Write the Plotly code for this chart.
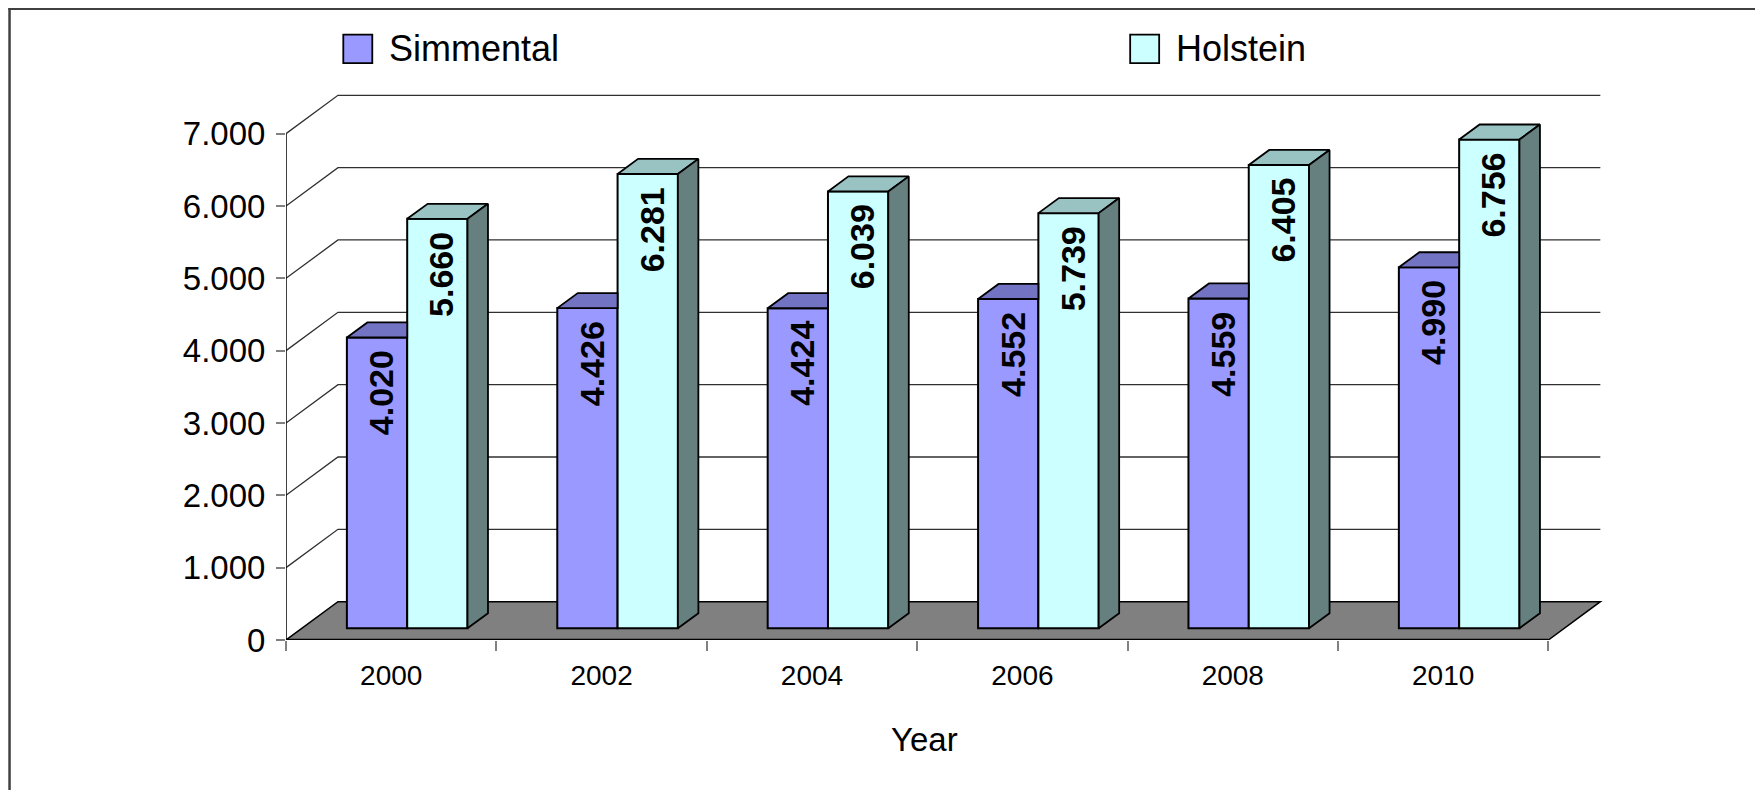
import plotly.graph_objects as go

# ---------------- data ----------------
years = ["2000", "2002", "2004", "2006", "2008", "2010"]
simmental = [4020, 4426, 4424, 4552, 4559, 4990]
holstein = [5660, 6281, 6039, 5739, 6405, 6756]
series_names = ["Simmental", "Holstein"]
y_ticks = [0, 1000, 2000, 3000, 4000, 5000, 6000, 7000]
x_title = "Year"

# ---------------- layout constants ----------------
OFF = 8                      # page body margin of the html page
PAGE_W, PAGE_H = 1763, 790
W, H = PAGE_W - OFF, PAGE_H - OFF
ML, MT = 285.7 - OFF, 83.4 - OFF
MB = H - (640 - OFF)
MR = W - (1621.9 - OFF)
PW, PH = W - ML - MR, H - MT - MB
X_RANGE = [-0.5, 5.85]
Y_RANGE = [0, 7700]

# pseudo-3D geometry (axis units)
FLOOR_DX, FLOOR_DY = 0.247, 530
BAR_DX0, BAR_DY0 = 0.076, 162
BAR_DDX, BAR_DDY = 0.0974, 208
BAR_W = 0.2866
LABEL_DX = 0.02

FRONT_COL = ["#9999FF", "#CCFFFF"]
TOP_COL = ["#7373C3", "#99C2C2"]
SIDE_COL = ["#5C5C99", "#668080"]

SANS = "Liberation Sans, Arial, sans-serif"


def px_x(px):
    """page pixel x -> paper x"""
    return (px - OFF - ML) / PW


def px_y(py):
    """page pixel y -> paper y"""
    return (H - MB - (py - OFF)) / PH


n = len(years)
xs = list(range(n))
x_lo, x_hi = -0.5, n - 0.5

fig = go.Figure()

# front faces (bars)
values = [simmental, holstein]
offsets = [BAR_DX0 - BAR_W, BAR_DX0]
for k in range(2):
    fig.add_trace(go.Bar(
        x=xs, y=values[k], base=[BAR_DY0] * n,
        offset=offsets[k], width=BAR_W, name=series_names[k],
        marker=dict(color=FRONT_COL[k], line=dict(color="black", width=2)),
        showlegend=False, hoverinfo="skip",
    ))


def poly_trace(polys, color):
    xx, yy = [], []
    for p in polys:
        for (a, b) in p:
            xx.append(a)
            yy.append(b)
        xx.append(p[0][0])
        yy.append(p[0][1])
        xx.append(None)
        yy.append(None)
    return go.Scatter(x=xx, y=yy, mode="lines", fill="toself", fillcolor=color,
                      line=dict(color="black", width=1.8), showlegend=False,
                      hoverinfo="skip")


sim_tops, hol_tops, hol_sides = [], [], []
for i in xs:
    s, h = simmental[i], holstein[i]
    sx0, sx1 = i + BAR_DX0 - BAR_W, i + BAR_DX0
    hx0, hx1 = sx1, sx1 + BAR_W
    ts, th = BAR_DY0 + s, BAR_DY0 + h
    if h >= s:
        sim_tops.append([(sx0, ts), (sx1, ts), (sx1, ts + BAR_DDY), (sx0 + BAR_DDX, ts + BAR_DDY)])
    else:
        sim_tops.append([(sx0, ts), (sx1, ts), (sx1 + BAR_DDX, ts + BAR_DDY), (sx0 + BAR_DDX, ts + BAR_DDY)])
    hol_tops.append([(hx0, th), (hx1, th), (hx1 + BAR_DDX, th + BAR_DDY), (hx0 + BAR_DDX, th + BAR_DDY)])
    hol_sides.append([(hx1, BAR_DY0), (hx1, th), (hx1 + BAR_DDX, th + BAR_DDY), (hx1 + BAR_DDX, BAR_DY0 + BAR_DDY)])

fig.add_trace(poly_trace(sim_tops, TOP_COL[0]))
fig.add_trace(poly_trace(hol_tops, TOP_COL[1]))
fig.add_trace(poly_trace(hol_sides, SIDE_COL[1]))

shapes = []
# back-wall gridlines + diagonals
for v in y_ticks[1:]:
    shapes.append(dict(
        type="path", xref="x", yref="y", layer="below",
        path=f"M {x_lo},{v} L {x_lo + FLOOR_DX},{v + FLOOR_DY} L {x_hi + FLOOR_DX},{v + FLOOR_DY}",
        line=dict(color="#303030", width=1.3),
    ))
# floor
shapes.append(dict(
    type="path", xref="x", yref="y", layer="below",
    path=(f"M {x_lo},0 L {x_hi},0 L {x_hi + FLOOR_DX},{FLOOR_DY} "
          f"L {x_lo + FLOOR_DX},{FLOOR_DY} Z"),
    fillcolor="#808080", line=dict(color="black", width=1.5),
))
shapes.append(dict(type="line", xref="x", yref="y", layer="below",
                   x0=x_lo, x1=x_hi, y0=0, y1=0, line=dict(color="black", width=2.5)))
# front vertical axis
shapes.append(dict(type="line", xref="x", yref="y", layer="below",
                   x0=x_lo, x1=x_lo, y0=0, y1=y_ticks[-1], line=dict(color="black", width=1.5)))

# frame
shapes.append(dict(type="line", xref="paper", yref="paper",
                   x0=px_x(8), x1=px_x(PAGE_W + 5), y0=px_y(9.2), y1=px_y(9.2),
                   line=dict(color="#404040", width=2.5)))
shapes.append(dict(type="line", xref="paper", yref="paper",
                   x0=px_x(9.2), x1=px_x(9.2), y0=px_y(8), y1=px_y(PAGE_H + 5),
                   line=dict(color="#404040", width=2.5)))

annotations = []
# legend (manual)
leg_box_x = [343, 1130]
leg_text_x = [387, 1174]
for k in range(2):
    shapes.append(dict(type="rect", xref="paper", yref="paper",
                       x0=px_x(leg_box_x[k]), x1=px_x(leg_box_x[k] + 29),
                       y0=px_y(35), y1=px_y(63.5),
                       fillcolor=FRONT_COL[k], line=dict(color="black", width=1.8)))
    annotations.append(dict(xref="paper", yref="paper", x=px_x(leg_text_x[k]), y=px_y(49),
                            xanchor="left", yanchor="middle", text=series_names[k],
                            showarrow=False, font=dict(family=SANS, size=36, color="black")))

# value labels
for k in range(2):
    for i in xs:
        v = values[k][i]
        cx = i + offsets[k] + BAR_W / 2 + LABEL_DX
        annotations.append(dict(
            xref="x", yref="y", x=cx, y=BAR_DY0 + v, yshift=-11,
            xanchor="center", yanchor="top", textangle=-90,
            text=f"{v:,}".replace(",", "."), showarrow=False,
            font=dict(family=SANS, size=34, color="black", weight="bold"),
        ))

# axis title
annotations.append(dict(xref="paper", yref="paper", x=px_x(924), y=px_y(739),
                        xanchor="center", yanchor="middle", text=x_title, showarrow=False,
                        font=dict(family=SANS, size=33, color="black")))

fig.update_layout(
    width=W, height=H,
    margin=dict(l=ML, r=MR, t=MT, b=MB, pad=0),
    paper_bgcolor="white", plot_bgcolor="white",
    barmode="overlay", separators=",.",
    showlegend=False,
    shapes=shapes, annotations=annotations,
    xaxis=dict(
        range=X_RANGE, showgrid=False, zeroline=False, showline=False,
        tickmode="array", tickvals=xs, ticktext=years, ticks="",
        tickfont=dict(family=SANS, size=28, color="black"),
        ticklabelstandoff=16,
        minor=dict(tickmode="array", tickvals=[x_lo + j for j in range(n + 1)],
                   ticks="outside", ticklen=10, tickwidth=1.5, tickcolor="#808080",
                   showgrid=False),
        fixedrange=True,
    ),
    yaxis=dict(
        range=Y_RANGE, showgrid=False, zeroline=False, showline=False,
        tickmode="array", tickvals=y_ticks, tickformat=",d",
        ticks="outside", ticklen=9, tickwidth=1.5, tickcolor="#808080",
        tickfont=dict(family=SANS, size=33, color="black"),
        ticklabelstandoff=4,
        fixedrange=True,
    ),
)

fig.write_html("out.html")
